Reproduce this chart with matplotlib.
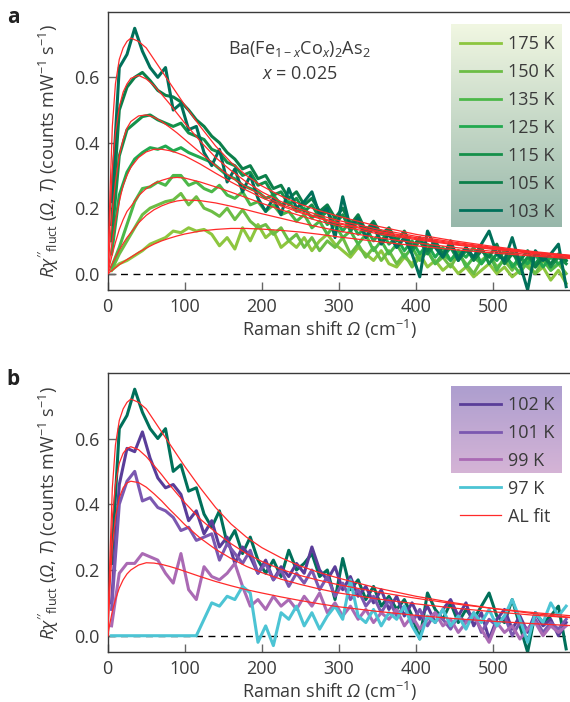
import matplotlib
matplotlib.use('Agg')
import matplotlib.pyplot as plt
import numpy as np
from matplotlib.colors import LinearSegmentedColormap

plt.rcParams['font.family'] = ['Open Sans', 'DejaVu Sans']
plt.rcParams['mathtext.fontset'] = 'custom'
plt.rcParams['mathtext.rm'] = 'Open Sans'
plt.rcParams['mathtext.it'] = 'Open Sans:italic'
plt.rcParams['mathtext.sf'] = 'Open Sans:italic'   # used for the italic Greek capital
plt.rcParams['mathtext.bf'] = 'Open Sans:bold'

# Raman shift grid of the measured spectra (cm^-1)
shift = np.arange(5, 600, 10)

# panel a: fluctuation spectra, x = 0.025
chi_175 = [0.01, 0.03, 0.04, 0.055, 0.07, 0.09, 0.10, 0.11, 0.13, 0.125, 0.14, 0.13, 0.135, 0.12, 0.085,
           0.11, 0.075, 0.14, 0.10, 0.15, 0.11, 0.13, 0.08, 0.10, 0.08, 0.11, 0.07, 0.10, 0.12, 0.09,
           0.07, 0.05, 0.08, 0.06, 0.04, 0.07, 0.03, 0.02, 0.05, 0.03, 0.06, 0.02, 0.04, 0.01, 0.03,
           0.0, 0.02, -0.01, 0.01, 0.03, 0.0, 0.02, -0.01, 0.01, 0.03, 0.0, 0.02, -0.02, 0.01, -0.03]
chi_150 = [0.01, 0.06, 0.10, 0.14, 0.18, 0.20, 0.21, 0.22, 0.225, 0.245, 0.21, 0.235, 0.20, 0.19, 0.175,
           0.20, 0.165, 0.195, 0.16, 0.14, 0.15, 0.12, 0.14, 0.10, 0.12, 0.08, 0.11, 0.07, 0.10, 0.08,
           0.11, 0.06, 0.09, 0.05, 0.08, 0.04, 0.07, 0.03, 0.06, 0.02, 0.05, 0.07, 0.03, 0.05, 0.02,
           0.06, 0.03, 0.0, 0.04, 0.06, 0.02, 0.04, 0.01, 0.05, 0.02, 0.0, 0.04, 0.01, 0.03, 0.0]
chi_135 = [0.02, 0.08, 0.15, 0.22, 0.26, 0.265, 0.28, 0.27, 0.30, 0.30, 0.27, 0.28, 0.26, 0.25, 0.27,
           0.24, 0.23, 0.25, 0.21, 0.22, 0.19, 0.21, 0.18, 0.19, 0.16, 0.18, 0.14, 0.16, 0.12, 0.15,
           0.11, 0.13, 0.09, 0.12, 0.07, 0.10, 0.06, 0.09, 0.05, 0.08, 0.04, 0.07, 0.03, 0.06, 0.04,
           0.07, 0.02, 0.05, 0.03, 0.06, 0.01, 0.05, 0.03, 0.0, 0.04, 0.02, 0.05, 0.01, 0.03, 0.05]
chi_125 = [0.06, 0.24, 0.31, 0.35, 0.37, 0.385, 0.38, 0.39, 0.375, 0.385, 0.37, 0.36, 0.35, 0.34, 0.32,
           0.30, 0.29, 0.27, 0.26, 0.25, 0.23, 0.24, 0.21, 0.22, 0.19, 0.20, 0.17, 0.19, 0.15, 0.17,
           0.13, 0.16, 0.12, 0.14, 0.10, 0.13, 0.09, 0.11, 0.07, 0.10, 0.06, 0.09, 0.05, 0.08, 0.04,
           0.07, 0.05, 0.08, 0.03, 0.06, 0.04, 0.07, 0.02, 0.05, 0.03, 0.06, 0.02, 0.05, 0.03, 0.04]
chi_115 = [0.10, 0.36, 0.44, 0.46, 0.48, 0.485, 0.47, 0.46, 0.45, 0.46, 0.43, 0.42, 0.41, 0.38, 0.37,
           0.34, 0.33, 0.30, 0.31, 0.27, 0.28, 0.24, 0.25, 0.21, 0.23, 0.19, 0.21, 0.17, 0.19, 0.15,
           0.18, 0.13, 0.16, 0.11, 0.14, 0.10, 0.13, 0.08, 0.11, 0.07, 0.10, 0.06, 0.09, 0.05, 0.08,
           0.04, 0.07, 0.05, 0.08, 0.03, 0.06, 0.04, 0.07, 0.02, 0.05, 0.03, 0.06, 0.02, 0.05, 0.03]
chi_105 = [0.15, 0.50, 0.57, 0.60, 0.615, 0.59, 0.56, 0.545, 0.54, 0.525, 0.50, 0.47, 0.45, 0.42, 0.40,
           0.37, 0.35, 0.32, 0.33, 0.29, 0.30, 0.26, 0.27, 0.23, 0.25, 0.21, 0.23, 0.19, 0.21, 0.17,
           0.20, 0.15, 0.18, 0.13, 0.16, 0.12, 0.14, 0.10, 0.13, 0.08, 0.11, 0.07, 0.10, 0.06, 0.09,
           0.05, 0.08, 0.04, 0.07, 0.05, 0.09, 0.03, 0.06, 0.04, 0.07, 0.02, 0.05, 0.03, 0.06, 0.04]
chi_103 = [0.22, 0.63, 0.67, 0.75, 0.68, 0.63, 0.60, 0.63, 0.50, 0.52, 0.44, 0.45, 0.37, 0.33, 0.38,
           0.28, 0.32, 0.25, 0.30, 0.23, 0.19, 0.23, 0.18, 0.26, 0.20, 0.22, 0.25, 0.18, 0.20, 0.11,
           0.235, 0.14, 0.17, 0.11, 0.15, 0.09, 0.12, 0.08, 0.11, 0.06, -0.01, 0.13, 0.08, 0.05, 0.10,
           0.04, 0.08, 0.05, 0.09, 0.13, 0.06, 0.04, 0.11, 0.03, -0.05, 0.07, 0.04, 0.06, 0.09, -0.04]

# panel b: spectra close to and below Tc
chi_102 = [0.10, 0.46, 0.57, 0.56, 0.62, 0.54, 0.48, 0.45, 0.46, 0.43, 0.35, 0.38, 0.31, 0.35, 0.27,
           0.30, 0.22, 0.27, 0.24, 0.19, 0.23, 0.17, 0.21, 0.18, 0.22, 0.19, 0.27, 0.20, 0.17, 0.21,
           0.14, 0.18, 0.12, 0.15, 0.10, 0.14, 0.08, 0.12, 0.06, 0.10, 0.05, 0.09, 0.04, 0.08, 0.11,
           0.06, 0.10, 0.03, 0.07, -0.01, 0.05, 0.08, 0.02, 0.06, 0.01, 0.07, 0.03, 0.05, 0.0, 0.04]
chi_101 = [0.08, 0.40, 0.47, 0.50, 0.41, 0.42, 0.39, 0.38, 0.36, 0.32, 0.33, 0.29, 0.30, 0.31, 0.23,
           0.28, 0.25, 0.22, 0.26, 0.19, 0.22, 0.17, 0.20, 0.15, 0.19, 0.16, 0.20, 0.14, 0.18, 0.12,
           0.16, 0.11, 0.14, 0.09, 0.12, 0.07, 0.11, 0.06, 0.09, 0.04, 0.08, 0.03, 0.07, 0.05, 0.02,
           0.06, 0.04, 0.07, 0.01, 0.05, 0.03, 0.06, 0.0, 0.04, 0.02, 0.05, 0.01, 0.04, 0.02, 0.05]
chi_99 = [0.03, 0.19, 0.22, 0.22, 0.25, 0.24, 0.23, 0.19, 0.16, 0.25, 0.14, 0.11, 0.21, 0.18, 0.17,
          0.19, 0.22, 0.15, 0.09, 0.11, 0.08, 0.12, 0.09, 0.11, 0.08, 0.12, 0.09, 0.13, 0.07, 0.10,
          0.06, 0.09, 0.05, 0.08, 0.04, 0.07, 0.05, 0.08, 0.03, 0.06, 0.02, 0.05, 0.07, 0.03, 0.05,
          0.01, 0.04, 0.06, 0.02, -0.02, 0.04, 0.01, 0.03, -0.01, 0.02, 0.04, 0.0, 0.03, 0.01, 0.03]
chi_97 = [0.0, 0.0, 0.0, 0.0, 0.0, 0.0, 0.0, 0.0, 0.0, 0.0, 0.0, 0.0, 0.05, 0.10, 0.09,
          0.12, 0.11, 0.15, 0.13, -0.02, 0.03, -0.03, 0.07, 0.05, 0.09, 0.03, 0.07, 0.02, 0.06, 0.09,
          0.05, 0.17, 0.06, 0.04, 0.08, 0.03, 0.07, 0.05, 0.09, 0.03, -0.01, 0.06, 0.04, 0.08, 0.03,
          0.06, 0.02, 0.07, 0.04, 0.08, 0.03, 0.06, 0.11, 0.05, -0.02, 0.07, 0.04, 0.10, 0.06, 0.09]

# Aslamazov-Larkin fits
fit_shift = [0, 3, 6, 10, 15, 20, 25, 30, 40, 50, 60, 70, 80, 90, 100, 120, 140, 160, 180, 200,
             225, 250, 275, 300, 350, 400, 450, 500, 550, 600]
fit_175 = [0, 0.005, 0.01, 0.018, 0.027, 0.035, 0.043, 0.05, 0.065, 0.078, 0.09, 0.1, 0.108, 0.115, 0.121,
           0.13, 0.135, 0.138, 0.138, 0.136, 0.132, 0.127, 0.12, 0.112, 0.098, 0.085, 0.073, 0.063, 0.054, 0.046]
fit_150 = [0, 0.015, 0.03, 0.05, 0.072, 0.092, 0.11, 0.125, 0.155, 0.178, 0.195, 0.207, 0.216, 0.222, 0.225,
           0.223, 0.216, 0.206, 0.195, 0.183, 0.169, 0.155, 0.142, 0.13, 0.11, 0.094, 0.08, 0.068, 0.058, 0.049]
fit_135 = [0, 0.03, 0.06, 0.095, 0.135, 0.165, 0.19, 0.205, 0.238, 0.26, 0.275, 0.285, 0.292, 0.294, 0.292,
           0.28, 0.265, 0.249, 0.232, 0.215, 0.195, 0.177, 0.16, 0.146, 0.122, 0.104, 0.088, 0.074, 0.062, 0.052]
fit_125 = [0, 0.05, 0.10, 0.16, 0.22, 0.27, 0.30, 0.325, 0.355, 0.372, 0.38, 0.38, 0.376, 0.369, 0.36,
           0.335, 0.307, 0.28, 0.255, 0.232, 0.207, 0.186, 0.168, 0.152, 0.127, 0.107, 0.09, 0.076, 0.064, 0.053]
fit_115 = [0, 0.10, 0.19, 0.28, 0.36, 0.41, 0.445, 0.465, 0.482, 0.485, 0.478, 0.465, 0.448, 0.43, 0.41,
           0.37, 0.33, 0.295, 0.265, 0.24, 0.212, 0.19, 0.171, 0.155, 0.13, 0.11, 0.093, 0.078, 0.065, 0.054]
fit_105 = [0, 0.18, 0.32, 0.43, 0.51, 0.555, 0.58, 0.597, 0.606, 0.595, 0.575, 0.548, 0.52, 0.49, 0.46,
           0.405, 0.355, 0.315, 0.28, 0.25, 0.22, 0.197, 0.178, 0.162, 0.136, 0.114, 0.096, 0.08, 0.066, 0.055]
fit_103 = [0, 0.25, 0.45, 0.58, 0.655, 0.69, 0.71, 0.72, 0.71, 0.69, 0.655, 0.62, 0.585, 0.55, 0.515,
           0.45, 0.39, 0.34, 0.30, 0.268, 0.237, 0.212, 0.192, 0.175, 0.145, 0.12, 0.10, 0.083, 0.068, 0.056]
fit_102 = [0, 0.2, 0.36, 0.46, 0.525, 0.555, 0.57, 0.575, 0.566, 0.545, 0.518, 0.49, 0.46, 0.432, 0.405,
           0.355, 0.315, 0.28, 0.25, 0.226, 0.202, 0.183, 0.168, 0.155, 0.133, 0.114, 0.097, 0.083, 0.071, 0.061]
fit_101 = [0, 0.15, 0.27, 0.36, 0.42, 0.45, 0.465, 0.47, 0.466, 0.452, 0.432, 0.41, 0.385, 0.362, 0.338,
           0.297, 0.263, 0.235, 0.211, 0.192, 0.172, 0.156, 0.142, 0.13, 0.112, 0.097, 0.084, 0.073, 0.063, 0.055]
fit_99 = [0, 0.04, 0.075, 0.11, 0.145, 0.17, 0.188, 0.2, 0.215, 0.222, 0.221, 0.217, 0.211, 0.204, 0.196,
          0.18, 0.165, 0.152, 0.14, 0.13, 0.118, 0.107, 0.097, 0.088, 0.074, 0.062, 0.052, 0.044, 0.037, 0.031]

labels_a = ['175 K', '150 K', '135 K', '125 K', '115 K', '105 K', '103 K']
data_a = [chi_175, chi_150, chi_135, chi_125, chi_115, chi_105, chi_103]
fits_a = [fit_175, fit_150, fit_135, fit_125, fit_115, fit_105, fit_103]
colors_a = ['#8dc63f', '#6cbd45', '#4cb849', '#22a94f', '#15904a', '#0c7f4a', '#00705a']

labels_b = ['102 K', '101 K', '99 K', '97 K']
data_b = [chi_102, chi_101, chi_99, chi_97]
fits_b = [fit_103, fit_102, fit_101, fit_99]
colors_b = ['#5a3d99', '#7b58b0', '#aa6ab4', '#4cc4d4']

red = '#ff2a2a'
grey = '#3a3a3a'


def style(ax):
    ax.set_xlim(0, 600)
    ax.set_ylim(-0.05, 0.8)
    ax.set_xticks([0, 100, 200, 300, 400, 500])
    ax.set_yticks([0.0, 0.2, 0.4, 0.6])
    ax.set_yticklabels(['0.0', '0.2', '0.4', '0.6'])
    ax.tick_params(direction='in', length=6, width=1, color='#666666', labelsize=13,
                   labelcolor=grey, pad=6)
    ax.spines['right'].set_visible(False)
    for s in ['left', 'bottom', 'top']:
        ax.spines[s].set_color(grey)
        ax.spines[s].set_linewidth(1)
    ax.axhline(0, color='k', lw=1, ls=(0, (5, 4)), zorder=1)
    ax.set_xlabel(r'Raman shift $\mathsf{\Omega}$ (cm$^{-1}$)', fontsize=13, color=grey,
                  labelpad=1, x=0.48)
    ax.set_ylabel(r"$R\chi''_{\rm fluct}$ ($\mathsf{\Omega}$, $T$) (counts mW$^{-1}$ s$^{-1}$)",
                  fontsize=13, color=grey, labelpad=9)


def gradient_box(ax, extent, c_top, c_bottom):
    cmap = LinearSegmentedColormap.from_list('g', [c_top, c_bottom])
    ax.imshow(np.linspace(0, 1, 256).reshape(-1, 1), cmap=cmap, extent=extent,
              transform=ax.transAxes, aspect='auto', zorder=4, interpolation='bicubic')


def add_legend(ax):
    leg = ax.legend(loc='upper left', bbox_to_anchor=(0.762, 0.917), frameon=False, fontsize=13,
                    handlelength=2.25, handletextpad=0.4, labelspacing=0.55, borderaxespad=0,
                    borderpad=0)
    for t in leg.get_texts():
        t.set_color(grey)
    for ln in leg.get_lines():
        if ln.get_color() != red:
            ln.set_linewidth(2.0)
    leg.set_zorder(6)


fig = plt.figure(figsize=(5.7, 7.02), dpi=100)
ax_a = fig.add_axes([0.189, 0.587, 0.811, 0.396])
ax_b = fig.add_axes([0.189, 0.071, 0.811, 0.398])

# panel a
for lab, y, c in zip(labels_a, data_a, colors_a):
    ax_a.plot(shift, y, color=c, lw=2.2, label=lab, zorder=2)
for f in fits_a:
    ax_a.plot(fit_shift, f, color=red, lw=0.9, zorder=3)
gradient_box(ax_a, [0.743, 0.983, 0.227, 0.957], '#f1f7e2', '#97b7aa')
style(ax_a)
add_legend(ax_a)
ax_a.text(0.415, 0.865, r'Ba(Fe$_{1-x}$Co$_x$)$_2$As$_2$', transform=ax_a.transAxes,
          ha='center', va='center', fontsize=13, color=grey)
ax_a.text(0.415, 0.775, r'$x$ = 0.025', transform=ax_a.transAxes,
          ha='center', va='center', fontsize=13, color=grey)

# panel b
ax_b.plot(shift, chi_103, color=colors_a[-1], lw=2.2, zorder=2)
for lab, y, c in zip(labels_b, data_b, colors_b):
    ax_b.plot(shift, y, color=c, lw=2.2, label=lab, zorder=2)
for i, f in enumerate(fits_b):
    ax_b.plot(fit_shift, f, color=red, lw=0.9, zorder=3, label='AL fit' if i == 0 else None)
gradient_box(ax_b, [0.743, 0.983, 0.643, 0.953], '#ad9ecf', '#d5b4d6')
style(ax_b)
add_legend(ax_b)

fig.text(0.012, 0.967, 'a', fontsize=15, fontweight='bold', color='#222222')
fig.text(0.012, 0.452, 'b', fontsize=15, fontweight='bold', color='#222222')

fig.savefig('out.png', dpi=100)
